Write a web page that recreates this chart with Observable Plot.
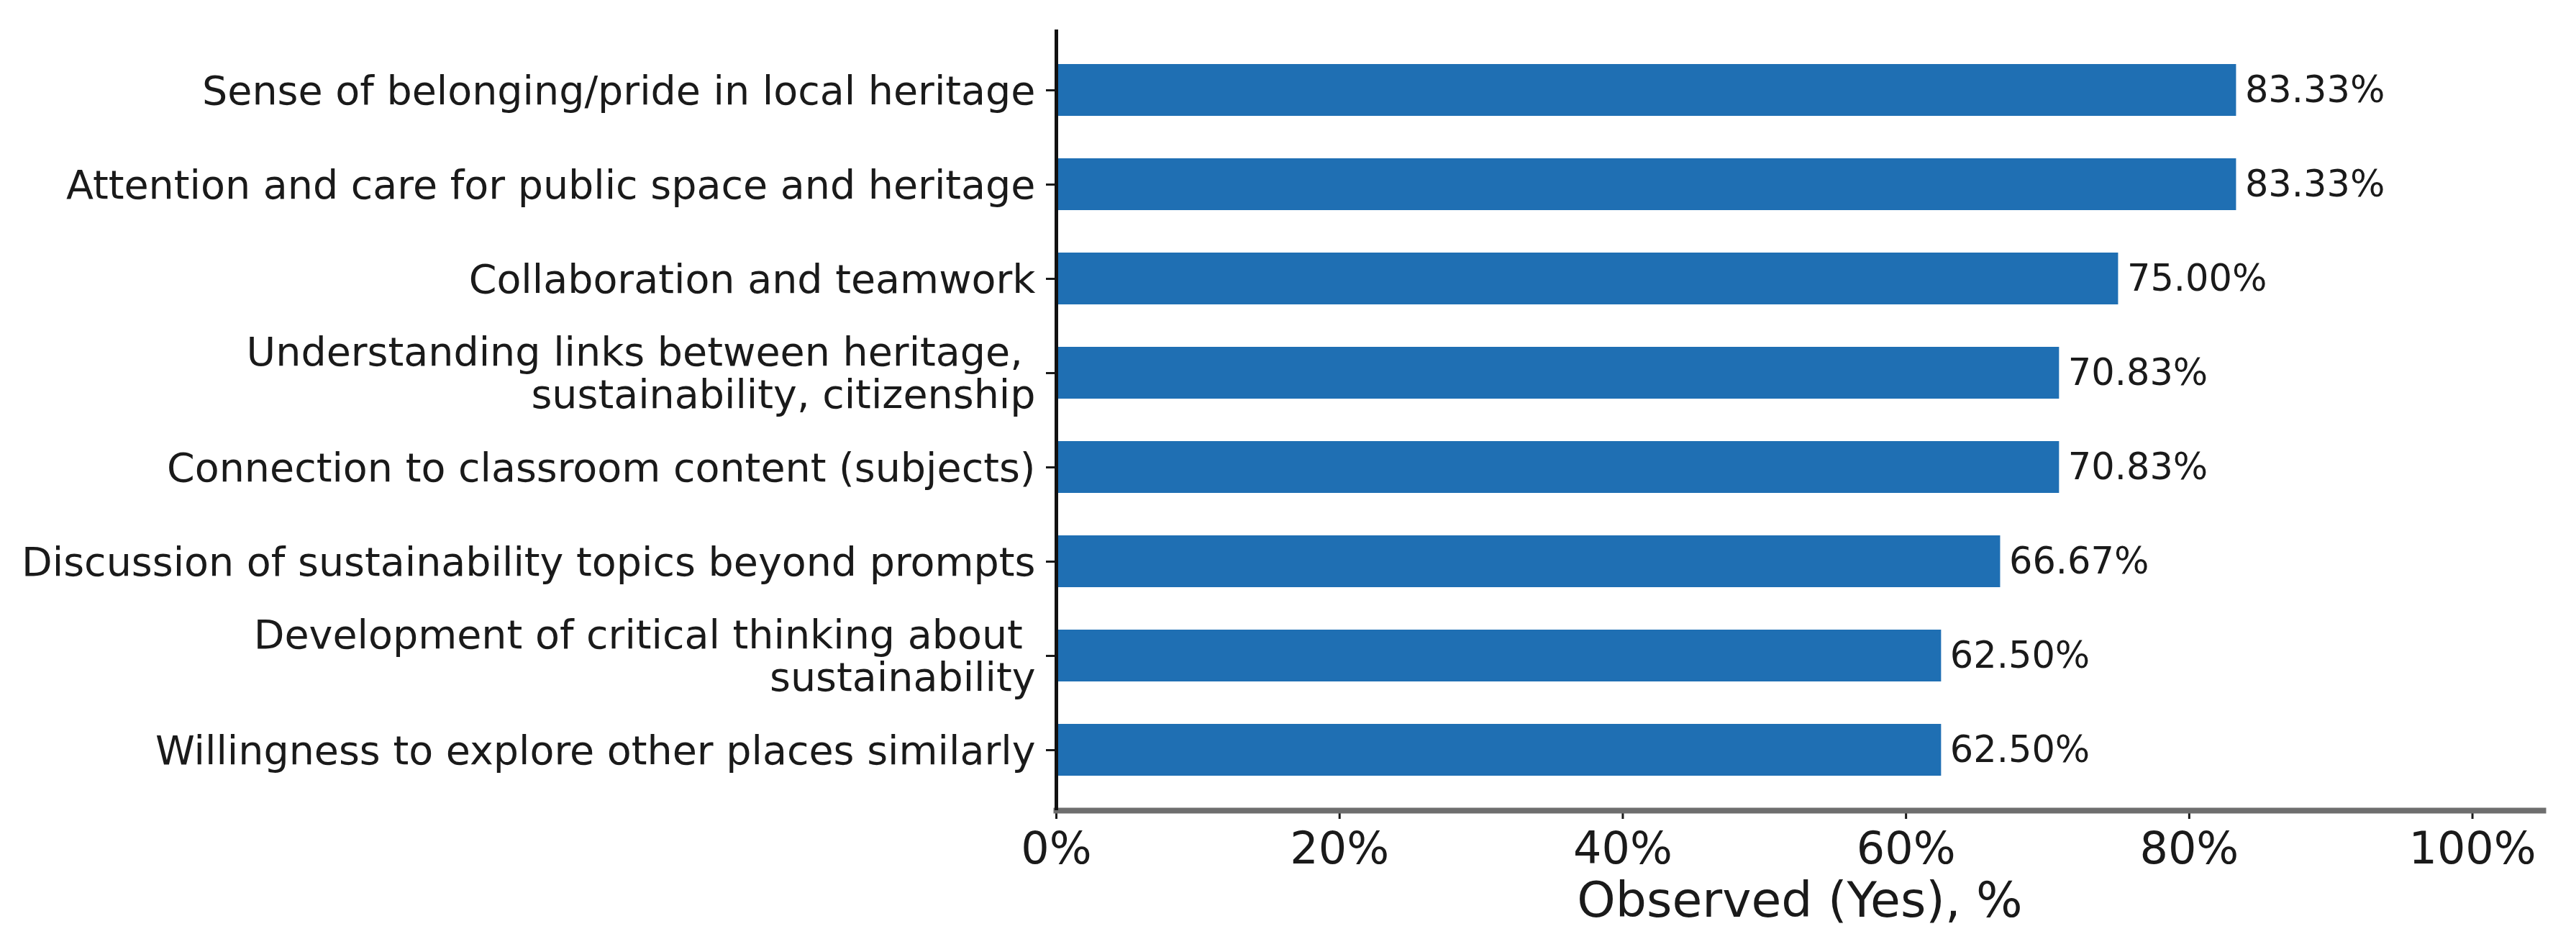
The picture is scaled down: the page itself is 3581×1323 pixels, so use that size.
<!DOCTYPE html>
<html>
<head>
<meta charset="utf-8">
<script src="https://cdn.jsdelivr.net/npm/d3@7"></script>
<script src="https://cdn.jsdelivr.net/npm/@observablehq/plot@0.6"></script>
<style>
  html, body { margin: 0; padding: 0; background: #fff; }
  svg text { white-space: pre; }
</style>
</head>
<body>
<div id="chart"></div>
<script>
const categories = [
  "Sense of belonging/pride in local heritage",
  "Attention and care for public space and heritage",
  "Collaboration and teamwork",
  "Understanding links between heritage, \nsustainability, citizenship",
  "Connection to classroom content (subjects)",
  "Discussion of sustainability topics beyond prompts",
  "Development of critical thinking about \nsustainability",
  "Willingness to explore other places similarly"
];
const observedYes = [83.33, 83.33, 75.00, 70.83, 70.83, 66.67, 62.50, 62.50];
const xTicks = [0, 20, 40, 60, 80, 100];
const xTitle = "Observed (Yes), %";

const data = categories.map((c, i) => ({category: c, value: observedYes[i]}));

const chart = Plot.plot({
  width: 3581,
  height: 1323,
  marginLeft: 1468,
  marginRight: 46,
  marginTop: 41,
  marginBottom: 197,
  style: {fontFamily: "DejaVu Sans", color: "#1a1a1a", background: "#fff"},
  x: {domain: [0, 105], label: null},
  y: {domain: categories, paddingInner: 0.45, paddingOuter: 0.36, label: null},
  marks: [
    Plot.barX(data, {x: "value", y: "category", fill: "#1f6fb3"}),
    Plot.text(data, {
      x: "value", y: "category",
      text: d => d.value.toFixed(2) + "%",
      textAnchor: "start", dx: 12, fontSize: 51, fill: "#1a1a1a"
    }),
    Plot.axisY({
      tickSize: 14, tickPadding: 15, fontSize: 55.5, lineHeight: 1.07,
      stroke: "#1a1a1a", strokeWidth: 3, label: null
    }),
    Plot.axisX({
      ticks: xTicks, tickFormat: d => d + "%",
      tickSize: 12, tickPadding: 17, fontSize: 62,
      stroke: "#1a1a1a", strokeWidth: 3, label: null
    }),
    Plot.frame({anchor: "bottom", stroke: "#6e6e6e", strokeWidth: 8}),
    Plot.ruleX([0], {stroke: "#111", strokeWidth: 5}),
    Plot.text([xTitle], {frameAnchor: "bottom", lineAnchor: "middle", dy: 126, fontSize: 68, fill: "#1a1a1a"})
  ]
});
document.getElementById("chart").appendChild(chart);
</script>
</body>
</html>
